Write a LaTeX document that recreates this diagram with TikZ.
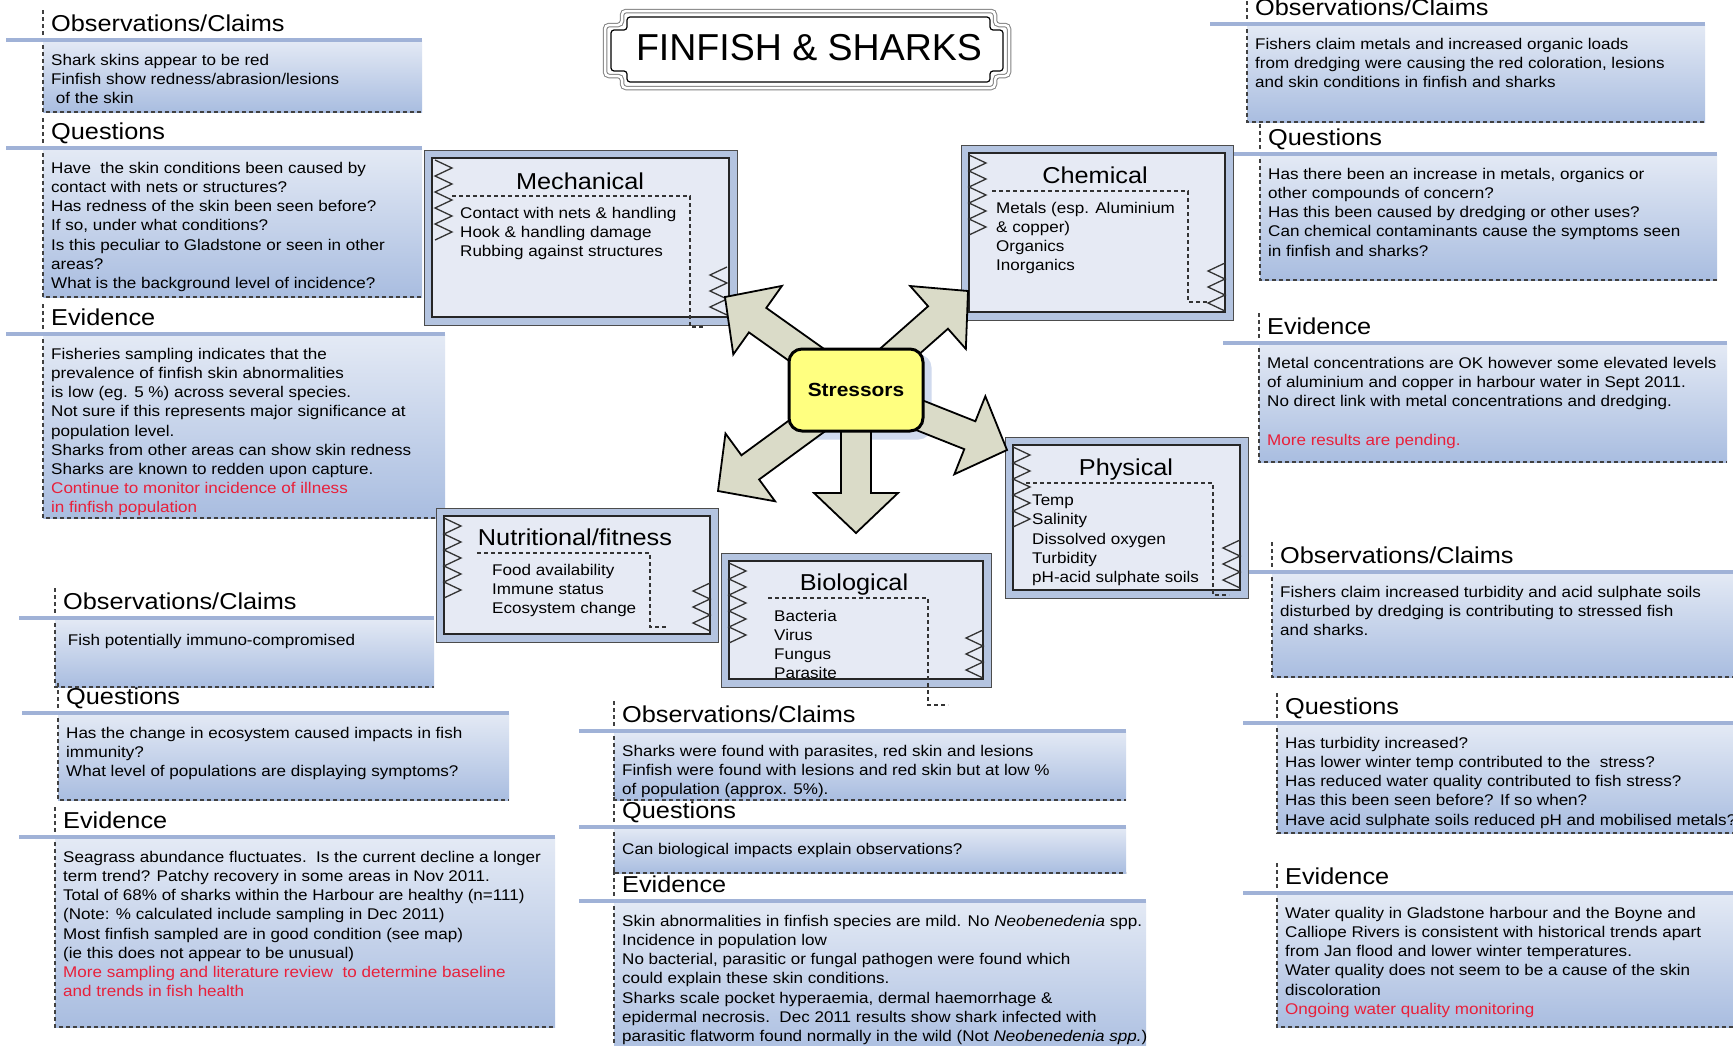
\documentclass[tikz,border=0pt]{standalone}
\usepackage{fontspec}
\setmainfont{Liberation Sans}
\newfontfamily\wide{Liberation Sans}[FakeStretch=1.1]
\usetikzlibrary{calc,positioning}

\definecolor{paneltop}{HTML}{E4EAF5}
\definecolor{panelbot}{HTML}{A9BDE0}
\definecolor{lineblue}{HTML}{A0B2D7}
\definecolor{bandblue}{HTML}{B4C4E0}
\definecolor{innerfill}{HTML}{E6EAF4}
\definecolor{arrowfill}{HTML}{DADBC8}
\definecolor{stressyellow}{HTML}{FFFF80}
\definecolor{shadowblue}{HTML}{D0DAEE}
\definecolor{notered}{HTML}{E8203A}

\pgfdeclarelayer{front}
\pgfsetlayers{main,front}

% one note panel: name, dashed x, line start x, line y, right x, bottom y, header, text
\newcommand{\notepanel}[8]{%
  \shade[top color=paneltop, bottom color=panelbot] (#2,#4) rectangle (#5,#6);
  \draw[panelline] (#2,#4-30) -- (#2,#6) -- (#5,#6);
  \draw[blueline] (#3,#4) -- (#5,#4);
  \node[hdr] (#1) at (#2+8,#4-9) {#7};
  \node[txt] (#1txt) at (#2+8,#4+24) {#8};
}
% framed stressor box
\newcommand{\stressorbox}[4]{%
  \draw[outerbox] (#1,#2) rectangle (#3,#4);
  \draw[innerbox] (#1+8,#2+8) rectangle (#3-8,#4-8);
}
\newcommand{\zigL}[3]{\draw[zig] (#1,#2) \foreach \k in {1,...,#3}{ -- ++(17,8) -- ++(-17,8)};}
\newcommand{\zigR}[3]{\draw[zig] (#1,#2) \foreach \k in {1,...,#3}{ -- ++(-17,8) -- ++(17,8)};}
\newcommand{\blockarrow}[2]{%
  \path (#1) coordinate (tl) (#2) coordinate (tp);
  \path ($(tp)!40pt!(tl)$) coordinate (hb);
  \draw[bigarrow] ($(tl)!15pt!90:(tp)$) -- ($(hb)!15pt!90:(tp)$) -- ($(hb)!42pt!90:(tp)$) -- (tp)
    -- ($(hb)!42pt!-90:(tp)$) -- ($(hb)!15pt!-90:(tp)$) -- ($(tl)!15pt!-90:(tp)$) -- cycle;
}

\begin{document}
\begin{tikzpicture}[x=1pt, y=-1pt,
    hdr/.style={anchor=base west, inner sep=0, font=\wide\fontsize{23}{26}\selectfont},
    txt/.style={anchor=north west, inner sep=0, yshift=10.2pt, align=left,
      font=\wide\fontsize{15.5}{19.2}\selectfont, execute at begin node=\strut},
    boxtitle/.style={anchor=base, inner sep=0, font=\wide\fontsize{23}{26}\selectfont},
    panelline/.style={dashed, dash pattern=on 4pt off 3pt, line width=1.2pt, black!75},
    blueline/.style={lineblue, line width=4pt},
    outerbox/.style={draw=black!70, fill=bandblue, line width=1pt},
    innerbox/.style={draw=black!85, fill=innerfill, line width=1.3pt},
    inbox/.style={dashed, dash pattern=on 4pt off 3pt, line width=1.1pt, black!80},
    zig/.style={black!80, line width=1.3pt},
    bigarrow/.style={draw=black, fill=arrowfill, line width=1.8pt, line join=miter},
    stressnode/.style={draw, line width=3pt, fill=stressyellow, rounded corners=13pt,
      minimum width=134pt, minimum height=82pt, font=\wide\bfseries\fontsize{19}{22}\selectfont}]
\useasboundingbox (0,0) rectangle (1733,1045);
\fill[white] (0,0) rectangle (1733,1045);

% title
\draw[gray, line width=1pt, double=white, double distance=2.5pt, fill=white, rounded corners=4pt]
  (622,11) -- (995,11) -- (995,25) -- (1009,25) -- (1009,76) -- (995,76) -- (995,88)
  -- (622,88) -- (622,76) -- (605,76) -- (605,25) -- (622,25) -- cycle;
\draw[line width=1.2pt, rounded corners=3pt]
  (627,17) -- (990,17) -- (990,30) -- (1003,30) -- (1003,71) -- (990,71) -- (990,82)
  -- (627,82) -- (627,71) -- (611,71) -- (611,30) -- (627,30) -- cycle;
\node[anchor=base, inner sep=0, font=\fontsize{37.5}{40}\selectfont] (title) at (809,60) {FINFISH \& SHARKS};

% left column
\notepanel{obsA}{43}{6}{40}{422}{112}{Observations/Claims}
  {Shark skins appear to be red\\Finfish show redness/abrasion/lesions\\\ of the skin}
\notepanel{queA}{43}{6}{148}{422}{297}{Questions}
  {Have\ \ the skin conditions been caused by\\contact with nets or structures?\\Has redness of the skin been seen before?\\If so, under what conditions?\\Is this peculiar to Gladstone or seen in other\\areas?\\What is the background level of incidence?}
\notepanel{eviA}{43}{6}{334}{445}{518}{Evidence}
  {Fisheries sampling indicates that the\\prevalence of finfish skin abnormalities\\is low (eg. 5 \%) across several species.\\Not sure if this represents major significance at\\population level.\\Sharks from other areas can show skin redness\\Sharks are known to redden upon capture.\\{\color{notered}Continue to monitor incidence of illness}\\{\color{notered}in finfish population}}

% right column
\notepanel{obsB}{1247}{1210}{24}{1705}{122}{Observations/Claims}
  {Fishers claim metals and increased organic loads\\from dredging were causing the red coloration, lesions\\and skin conditions in finfish and sharks}
\notepanel{queB}{1260}{1233}{154}{1717}{280}{Questions}
  {Has there been an increase in metals, organics or\\other compounds of concern?\\Has this been caused by dredging or other uses?\\Can chemical contaminants cause the symptoms seen\\in finfish and sharks?}
\notepanel{eviB}{1259}{1223}{343}{1727}{462}{Evidence}
  {Metal concentrations are OK however some elevated levels\\of aluminium and copper in harbour water in Sept 2011.\\No direct link with metal concentrations and dredging.\\ \\{\color{notered}More results are pending.}}
\notepanel{obsC}{1272}{1238}{572}{1733}{677}{Observations/Claims}
  {Fishers claim increased turbidity and acid sulphate soils\\disturbed by dredging is contributing to stressed fish\\and sharks.}
\notepanel{queC}{1277}{1243}{723}{1733}{833}{Questions}
  {Has turbidity increased?\\Has lower winter temp contributed to the\ \ stress?\\Has reduced water quality contributed to fish stress?\\Has this been seen before? If so when?\\Have acid sulphate soils reduced pH and mobilised metals?}
\notepanel{eviC}{1277}{1243}{893}{1733}{1027}{Evidence}
  {Water quality in Gladstone harbour and the Boyne and\\Calliope Rivers is consistent with historical trends apart\\from Jan flood and lower winter temperatures.\\Water quality does not seem to be a cause of the skin\\discoloration\\{\color{notered}Ongoing water quality monitoring}}

% bottom left
\notepanel{obsD}{55}{19}{618}{434}{687}{Observations/Claims}
  {\ Fish potentially immuno-compromised}
\notepanel{queD}{58}{22}{713}{509}{800}{Questions}
  {Has the change in ecosystem caused impacts in fish\\immunity?\\What level of populations are displaying symptoms?}
\notepanel{eviD}{55}{19}{837}{555}{1027}{Evidence}
  {Seagrass abundance fluctuates.\ \ Is the current decline a longer\\term trend? Patchy recovery in some areas in Nov 2011.\\Total of 68\% of sharks within the Harbour are healthy (n=111)\\(Note: \% calculated include sampling in Dec 2011)\\Most finfish sampled are in good condition (see map)\\(ie this does not appear to be unusual)\\{\color{notered}More sampling and literature review\ \ to determine baseline}\\{\color{notered}and trends in fish health}}

% bottom middle
\notepanel{obsE}{614}{579}{731}{1126}{800}{Observations/Claims}
  {Sharks were found with parasites, red skin and lesions\\Finfish were found with lesions and red skin but at low \%\\of population (approx. 5\%).}
\notepanel{queE}{614}{579}{827}{1126}{873}{Questions}
  {Can biological impacts explain observations?}
\notepanel{eviE}{614}{579}{901}{1146}{1060}{Evidence}
  {Skin abnormalities in finfish species are mild. No \textit{Neobenedenia} spp.\\Incidence in population low\\No bacterial, parasitic or fungal pathogen were found which\\could explain these skin conditions.\\Sharks scale pocket hyperaemia, dermal haemorrhage \&\\epidermal necrosis.\ \ Dec 2011 results show shark infected with\\parasitic flatworm found normally in the wild (Not \textit{Neobenedenia spp.})}

% stressor boxes
\stressorbox{424}{150}{737}{325}
\zigL{435}{160}{5} \zigR{727}{267}{3}
\draw[inbox] (452,196) -- (690,196) -- (690,327) -- (705,327);
\node[boxtitle] (mech) at (580,189) {Mechanical};
\node[txt] (mechitems) at (460,217) {Contact with nets \& handling\\Hook \& handling damage\\Rubbing against structures};

\stressorbox{961}{145}{1233}{320}
\zigL{969}{155}{5} \zigR{1225}{263}{3}
\draw[inbox] (992,191) -- (1188,191) -- (1188,302) -- (1208,302);
\node[boxtitle] (chem) at (1095,183) {Chemical};
\node[txt] (chemitems) at (996,212) {Metals (esp. Aluminium\\\& copper)\\Organics\\Inorganics};

\stressorbox{1005}{437}{1248}{598}
\zigL{1013}{447}{5} \zigR{1240}{540}{3}
\draw[inbox] (1026,483) -- (1213,483) -- (1213,595) -- (1229,595);
\node[boxtitle] (phys) at (1126,475) {Physical};
\node[txt] (physitems) at (1032,505) {Temp\\Salinity\\Dissolved oxygen\\Turbidity\\pH-acid sulphate soils};

\stressorbox{436}{508}{718}{642}
\zigL{444}{518}{5} \zigR{710}{583}{3}
\draw[inbox] (477,553) -- (650,553) -- (650,627) -- (668,627);
\node[boxtitle] (nutr) at (575,545) {Nutritional/fitness};
\node[txt] (nutritems) at (492,574) {Food availability\\Immune status\\Ecosystem change};

\stressorbox{721}{553}{991}{687}
\zigL{729}{563}{5} \zigR{983}{630}{3}
\draw[inbox] (768,598) -- (928,598) -- (928,705) -- (948,705);
\node[boxtitle] (bio) at (854,590) {Biological};
\node[txt] (bioitems) at (774,620) {Bacteria\\Virus\\Fungus\\Parasite};

% centre
\begin{pgfonlayer}{front}
  \node[stressnode] (st) at (856,390) {Stressors};
\end{pgfonlayer}
\fill[shadowblue, rounded corners=13pt] ($(st.south west)+(7,7)$) rectangle ($(st.north east)+(7,7)$);

\coordinate (tipmech) at (725,297);
\coordinate (tipchem) at (968,291);
\coordinate (tipphys) at (1007,450);
\coordinate (tipbio) at (856,533);
\coordinate (tipnutr) at (718,491);
\blockarrow{st.center}{tipmech}
\blockarrow{st.center}{tipchem}
\blockarrow{st.center}{tipphys}
\blockarrow{st.center}{tipbio}
\blockarrow{st.center}{tipnutr}
\end{tikzpicture}
\end{document}
